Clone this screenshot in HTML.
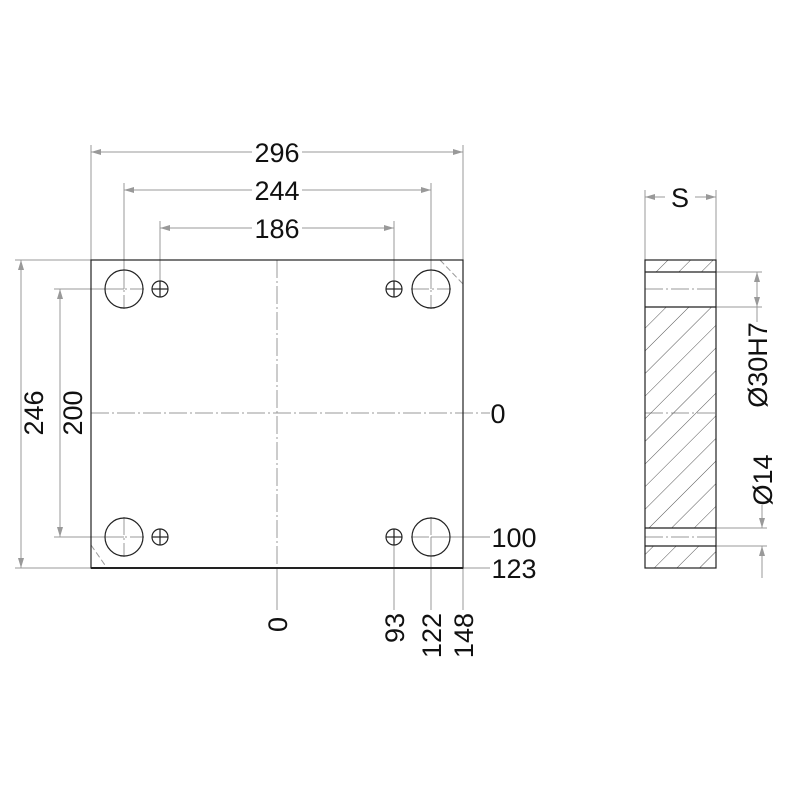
<!DOCTYPE html><html><head><style>body{margin:0;background:#fff}svg text{font-family:"Liberation Sans",sans-serif;fill:#111}</style></head><body>
<svg width="800" height="800" viewBox="0 0 800 800" xmlns="http://www.w3.org/2000/svg">
<defs>
<marker id="a" viewBox="0 0 10 6" refX="10" refY="3" markerWidth="10" markerHeight="6" orient="auto-start-reverse" markerUnits="userSpaceOnUse"><path d="M0,0L10,3L0,6z" fill="#999"/></marker>
<pattern id="h" patternUnits="userSpaceOnUse" width="16" height="16" patternTransform="rotate(45)"><line x1="0" y1="0" x2="0" y2="16" stroke="#555" stroke-width="1"/></pattern>
</defs>
<g stroke="#999" stroke-width="1" fill="none">
<line x1="91" y1="145" x2="91" y2="260"/><line x1="463" y1="145" x2="463" y2="260"/>
<line x1="91" y1="152" x2="252" y2="152" marker-start="url(#a)"/><line x1="302" y1="152" x2="463" y2="152" marker-end="url(#a)"/>
<line x1="124" y1="183" x2="124" y2="289"/><line x1="431" y1="183" x2="431" y2="289"/>
<line x1="124" y1="190" x2="252" y2="190" marker-start="url(#a)"/><line x1="302" y1="190" x2="431" y2="190" marker-end="url(#a)"/>
<line x1="160" y1="221" x2="160" y2="289"/><line x1="394" y1="221" x2="394" y2="289"/>
<line x1="160" y1="228" x2="252" y2="228" marker-start="url(#a)"/><line x1="302" y1="228" x2="394" y2="228" marker-end="url(#a)"/>
<line x1="15" y1="260" x2="91" y2="260"/><line x1="15" y1="568" x2="91" y2="568"/>
<line x1="21" y1="260" x2="21" y2="568" marker-start="url(#a)" marker-end="url(#a)"/>
<line x1="54" y1="289" x2="124" y2="289"/><line x1="54" y1="537" x2="124" y2="537"/>
<line x1="60" y1="289" x2="60" y2="537" marker-start="url(#a)" marker-end="url(#a)"/>
<line x1="431" y1="537" x2="490" y2="537"/><line x1="463" y1="568" x2="490" y2="568"/>
<line x1="277" y1="568" x2="277" y2="610"/><line x1="394" y1="537" x2="394" y2="610"/>
<line x1="431" y1="537" x2="431" y2="610"/><line x1="463" y1="568" x2="463" y2="610"/>
<g stroke-dasharray="18,3,2,3">
<line x1="91" y1="413" x2="490" y2="413"/><line x1="277" y1="260" x2="277" y2="568"/>
<line x1="104" y1="289" x2="144" y2="289"/><line x1="124" y1="269" x2="124" y2="309"/>
<line x1="411" y1="289" x2="451" y2="289"/><line x1="431" y1="269" x2="431" y2="309"/>
<line x1="104" y1="537" x2="144" y2="537"/><line x1="124" y1="517" x2="124" y2="557"/>
<line x1="411" y1="537" x2="451" y2="537"/><line x1="431" y1="517" x2="431" y2="557"/>
<line x1="645" y1="289" x2="716" y2="289"/><line x1="645" y1="413" x2="716" y2="413"/><line x1="645" y1="537" x2="716" y2="537"/>
</g>
<g stroke-dasharray="6,3"><line x1="440" y1="260" x2="463" y2="284"/><line x1="91" y1="545" x2="107" y2="568"/></g>
<line x1="645" y1="190" x2="645" y2="260"/><line x1="716" y1="190" x2="716" y2="260"/>
<line x1="645" y1="197" x2="665" y2="197" marker-start="url(#a)"/><line x1="695" y1="197" x2="716" y2="197" marker-end="url(#a)"/>
<line x1="716" y1="272" x2="762" y2="272"/><line x1="716" y1="307" x2="762" y2="307"/>
<line x1="757" y1="272" x2="757" y2="307" marker-start="url(#a)" marker-end="url(#a)"/>
<line x1="757" y1="307" x2="757" y2="322"/>
<line x1="716" y1="528" x2="767" y2="528"/><line x1="716" y1="546" x2="767" y2="546"/>
<line x1="762" y1="505" x2="762" y2="528" marker-end="url(#a)"/><line x1="762" y1="546" x2="762" y2="578" marker-start="url(#a)"/>
</g>
<g stroke="#222" stroke-width="1.2" fill="none">
<rect x="91" y="260" width="372" height="308"/>
<line x1="91" y1="568" x2="463" y2="568" stroke-width="2"/>
<circle cx="124" cy="289" r="19"/><circle cx="431" cy="289" r="19"/><circle cx="124" cy="537" r="19"/><circle cx="431" cy="537" r="19"/>
<circle cx="160" cy="289" r="8"/><circle cx="394" cy="289" r="8"/><circle cx="160" cy="537" r="8"/><circle cx="394" cy="537" r="8"/>
<line x1="152" y1="289" x2="168" y2="289"/><line x1="160" y1="281" x2="160" y2="297"/>
<line x1="386" y1="289" x2="402" y2="289"/><line x1="394" y1="281" x2="394" y2="297"/>
<line x1="152" y1="537" x2="168" y2="537"/><line x1="160" y1="529" x2="160" y2="545"/>
<line x1="386" y1="537" x2="402" y2="537"/><line x1="394" y1="529" x2="394" y2="545"/>
</g>
<rect x="645" y="260" width="71" height="12" fill="url(#h)"/>
<rect x="645" y="307" width="71" height="221" fill="url(#h)"/>
<rect x="645" y="546" width="71" height="22" fill="url(#h)"/>
<g stroke="#222" stroke-width="1.2" fill="none">
<rect x="645" y="260" width="71" height="308"/>
<line x1="645" y1="272" x2="716" y2="272"/><line x1="645" y1="307" x2="716" y2="307"/>
<line x1="645" y1="528" x2="716" y2="528"/><line x1="645" y1="546" x2="716" y2="546"/>
</g>
<g font-size="27" text-anchor="middle">
<text x="277" y="162">296</text><text x="277" y="200">244</text><text x="277" y="238">186</text>
<text x="680" y="207">S</text>
<text x="498" y="423">0</text>
<text x="514" y="547">100</text><text x="514" y="578">123</text>
<text transform="translate(43,413) rotate(-90)">246</text>
<text transform="translate(82,413) rotate(-90)">200</text>
<text transform="translate(287,617) rotate(-90)" text-anchor="end">0</text>
<text transform="translate(404,613) rotate(-90)" text-anchor="end">93</text>
<text transform="translate(441,613) rotate(-90)" text-anchor="end">122</text>
<text transform="translate(473,613) rotate(-90)" text-anchor="end">148</text>
<text transform="translate(767,365) rotate(-90)">Ø30H7</text>
<text transform="translate(772,480) rotate(-90)">Ø14</text>
</g>
</svg></body></html>
